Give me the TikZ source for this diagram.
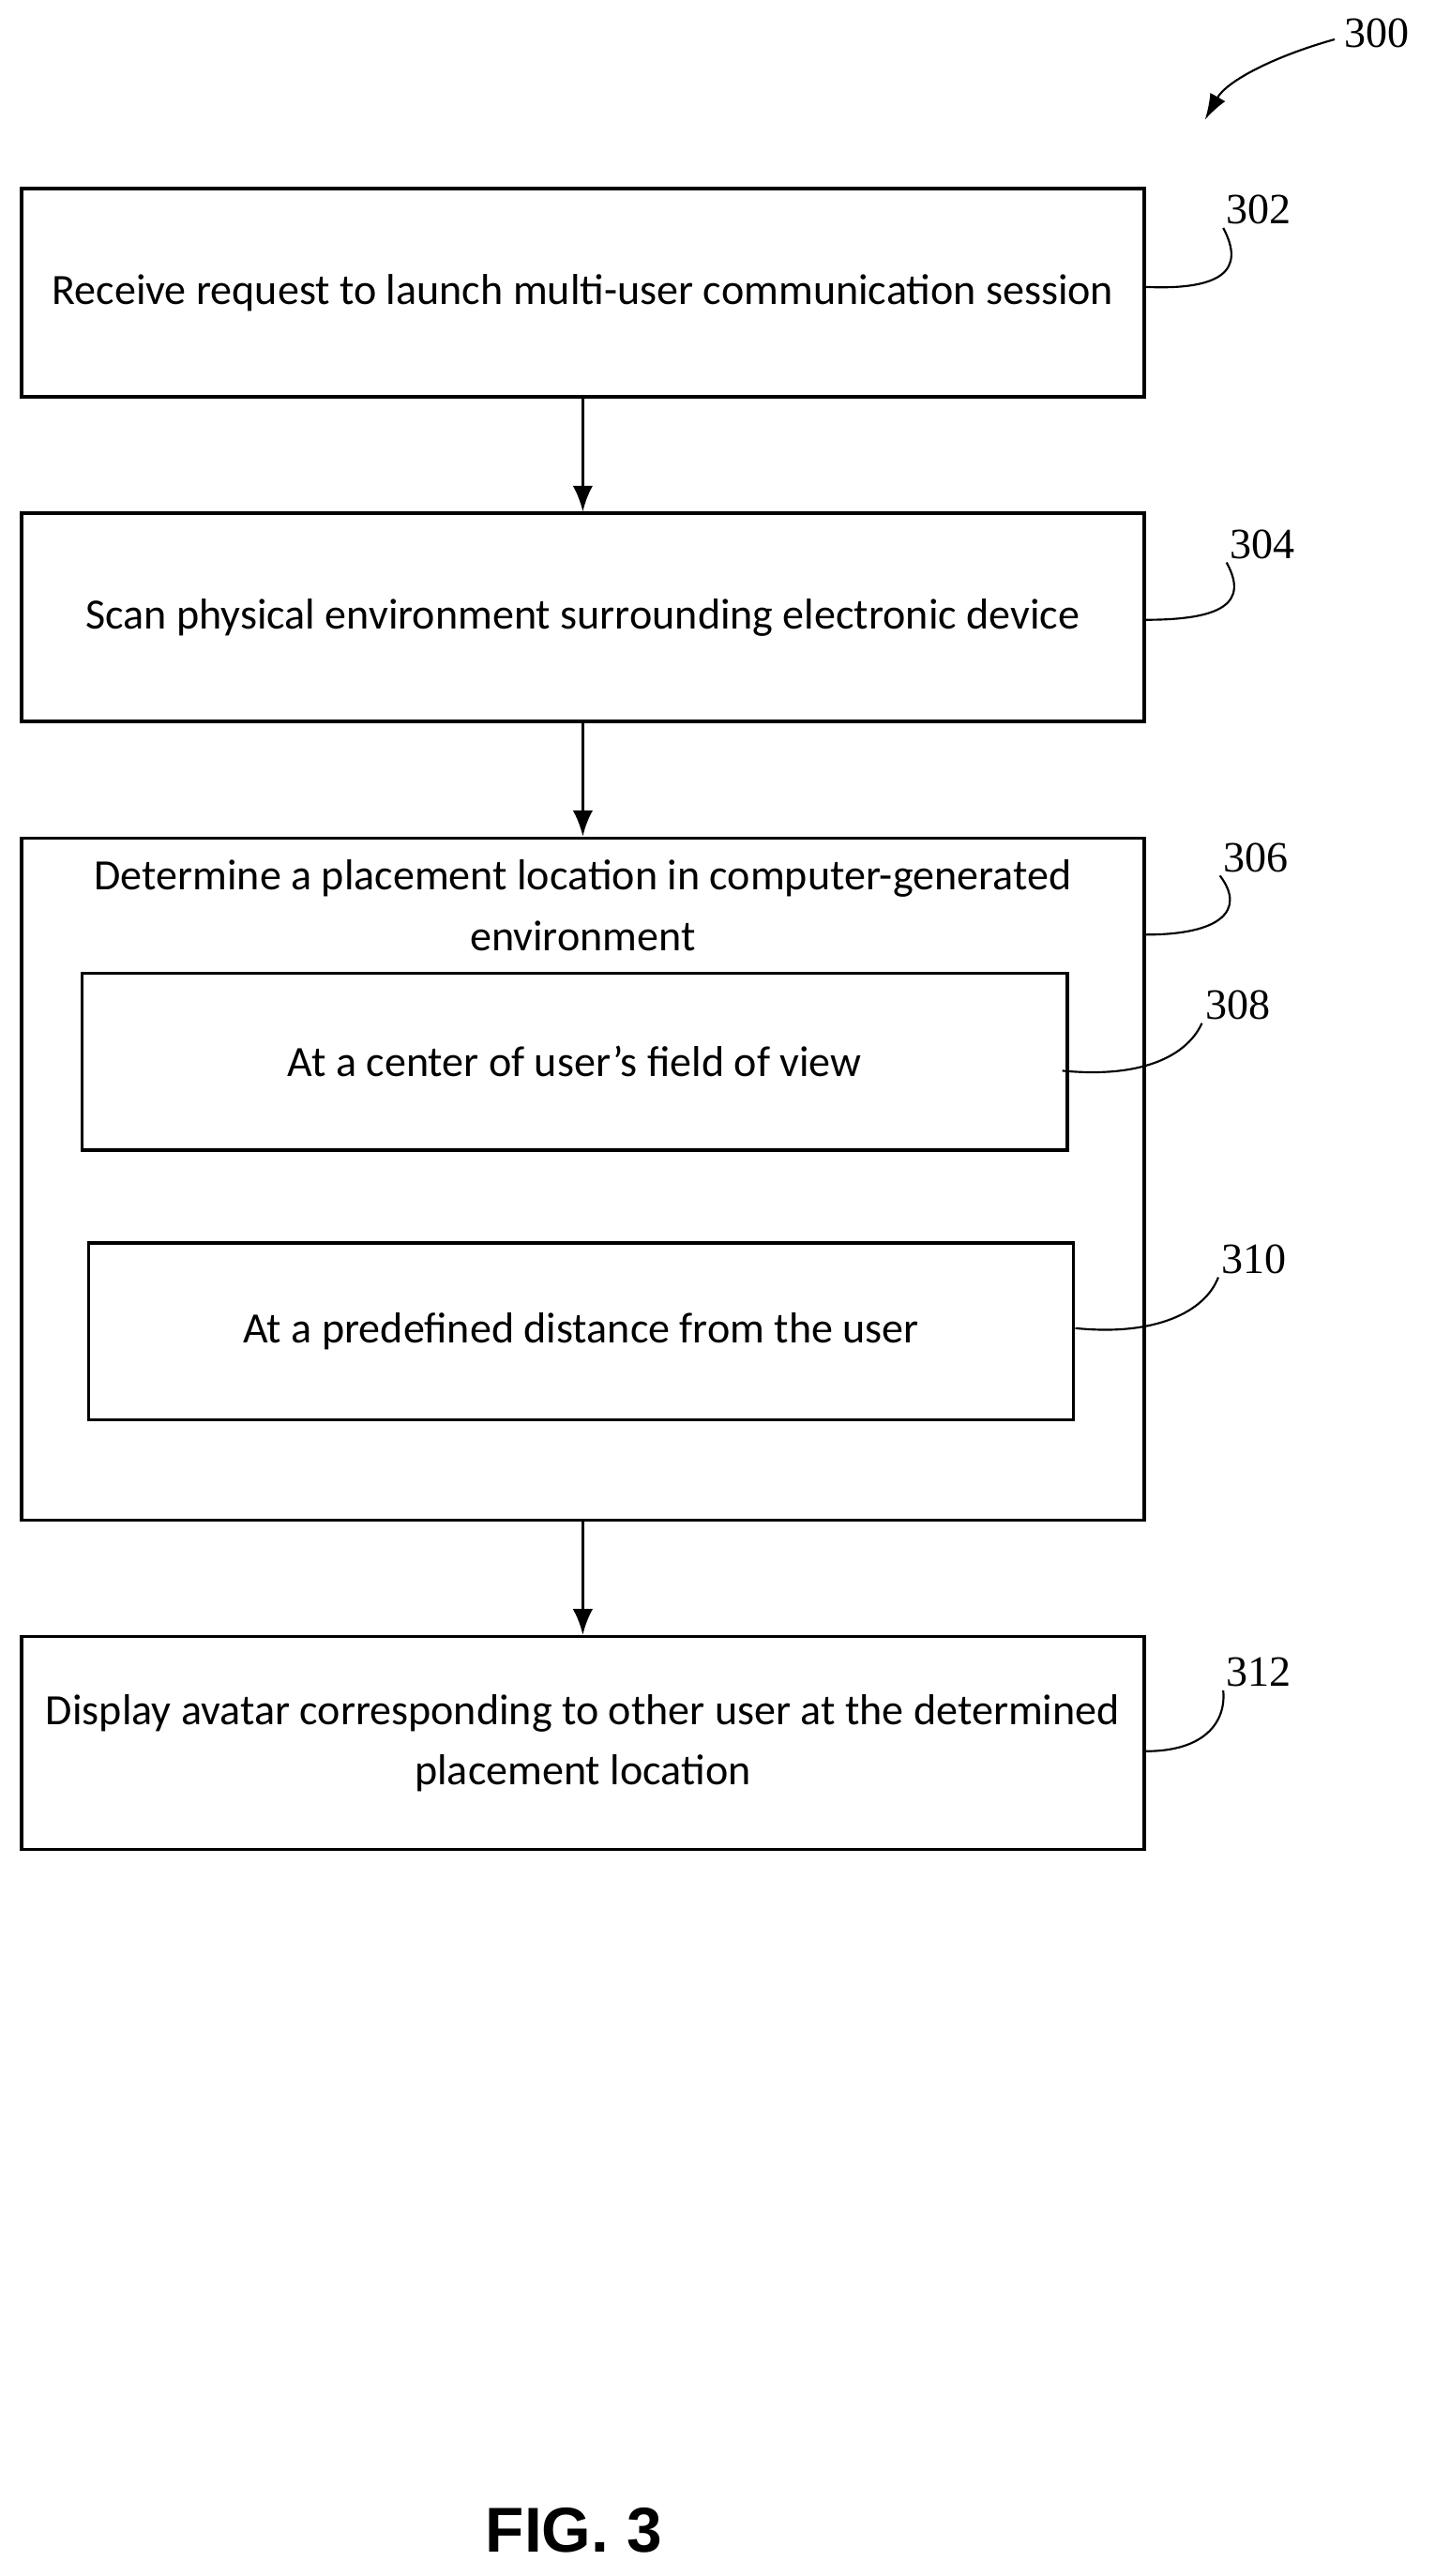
\documentclass[tikz,border=0pt]{standalone}
\usepackage{fontspec}
\setmainfont{Carlito}
\newfontfamily\reffont{Liberation Serif}
\newfontfamily\figfont{Liberation Sans}
\usetikzlibrary{calc, positioning, arrows.meta}
\def\stagewidth{13.7cm}
\def\stageheight{2.54cm}
\def\linewd{1.1pt}
\tikzset{
	% process stages
	stage/.style={
		shape=rectangle,
		draw=black,
		line width=\linewd,
		minimum width=\stagewidth,
		minimum height=\stageheight,
		align=center,
		font=\fontsize{15}{21}\selectfont,
		inner sep=0pt,
	},
	% inner options
	option/.style={
		stage,
		minimum width=12.02cm,
		minimum height=2.16cm,
	},
	% reference numerals
	refnum/.style={
		font=\reffont\fontsize{15}{18}\selectfont,
		inner sep=1pt,
	},
	% connections
	connection/.style={
		line width=\linewd,
		-{Latex[length=9pt,width=7pt]},
	},
	leader/.style={
		line width=0.7pt,
	}
}
\begin{document}
\begin{tikzpicture}[x=0.02cm,y=-0.02cm]
		\useasboundingbox (0,0) rectangle (875,1571);
		% Stages
		\node[stage] (receive) at (355.5,178.5) {Receive request to launch multi-user communication session};
		\node[stage] (scan) at (355.5,376.5) {Scan physical environment surrounding electronic device};
		\node[stage, minimum height=8.32cm] (determine) at (355.5,719) {};
		\node[anchor=north, align=center, font=\fontsize{15}{21}\selectfont,
			inner sep=0pt] (determine_text) at (355.5,524)
			{Determine a placement location in computer-generated\\environment};
		\node[option] (center) at (350.5,647.5) {At a center of user’s field of view};
		\node[option] (distance) at (354.5,812) {At a predefined distance from the user};
		\node[stage, minimum height=2.6cm] (display) at (355.5,1063)
			{Display avatar corresponding to other user at the determined\\placement location};
		
		% Connections
		\draw[connection] (receive) -- (scan);
		\draw[connection] (scan) -- (determine);
		\draw[connection] (determine) -- (display);
		
		% Reference numerals
		\node[refnum] (n300) at (840,20) {300};
		\node[refnum] (n302) at (768,128) {302};
		\node[refnum] (n304) at (770,332) {304};
		\node[refnum] (n306) at (766,523) {306};
		\node[refnum] (n308) at (755,613) {308};
		\node[refnum] (n310) at (765,768) {310};
		\node[refnum] (n312) at (768,1020) {312};
		\draw[leader, -{Latex[length=9pt,width=6pt]}] (n300.west) ++(-4,4) .. controls (775,35) and (748,50) .. (735,73);
		\draw[leader] (receive.east |- 0,175) .. controls (745,177) and (760,165) .. (n302.south west);
		\draw[leader] (scan.east |- 0,378) .. controls (745,378) and (762,368) .. (n304.south west);
		\draw[leader] (determine.east |- 0,570) .. controls (745,570) and (760,555) .. (n306.south west);
		\draw[leader] (648,653) .. controls (700,658) and (725,642) .. (n308.south west);
		\draw[leader] (distance.east |- 0,810) .. controls (705,815) and (735,800) .. (n310.south west);
		\draw[leader] (display.east |- 0,1068) .. controls (735,1068) and (748,1050) .. (n312.south west);
		
		% Caption
		\node[font=\figfont\bfseries\fontsize{22}{26}\selectfont] (caption) at (350,1543) {FIG. 3};
\end{tikzpicture}
\end{document}
